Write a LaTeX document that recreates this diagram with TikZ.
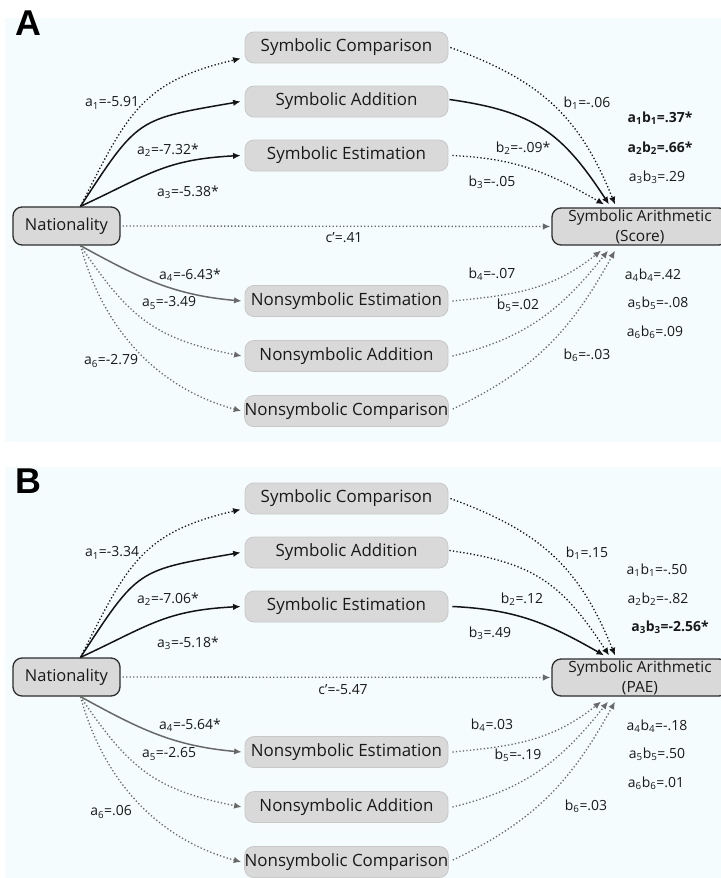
\documentclass[tikz,border=0pt]{standalone}
\usepackage{fontspec}
\setmainfont{Open Sans}
\newfontfamily\headfont{Liberation Sans}
\usetikzlibrary{arrows.meta,calc}
\definecolor{panelbg}{RGB}{244,252,253}
\definecolor{boxfill}{RGB}{217,217,217}
\definecolor{boxline}{RGB}{200,200,200}
\definecolor{darkline}{RGB}{45,45,45}
\definecolor{grayline}{RGB}{105,105,105}
\definecolor{txt}{RGB}{25,25,25}
\tikzset{
  med/.style={draw=boxline, line width=0.8bp, fill=boxfill, rounded corners=9bp,
    minimum width=203bp, minimum height=31bp, inner sep=0pt,
    font=\fontsize{17}{19}\selectfont, text=txt},
  keybox/.style={draw=darkline, line width=1.3bp, fill=boxfill, rounded corners=9bp,
    inner sep=0pt, align=center, text=txt},
  lab/.style={inner sep=0pt, font=\fontsize{14}{16}\selectfont, text=txt},
  blab/.style={inner sep=0pt, font=\bfseries\fontsize{14}{16}\selectfont, text=txt},
  head/.style={inner sep=0pt, font=\headfont\bfseries\fontsize{36}{36}\selectfont},
  tipk/.style={-{Latex[length=7.5bp,width=6.5bp]}},
  solidk/.style={tipk, line width=1.5bp, draw=black!92},
  dotk/.style={tipk, line width=1.3bp, draw=black!92, dash pattern=on 1.3bp off 2.2bp},
  solidg/.style={tipk, line width=1.5bp, draw=grayline},
  dotg/.style={tipk, line width=1.3bp, draw=grayline, dash pattern=on 1.3bp off 2.2bp},
}
\begin{document}
\begin{tikzpicture}[x=1bp,y=-1bp]
\useasboundingbox (0,0) rectangle (721,878);
\fill[panelbg] (5,18) rectangle (721,442);
\fill[panelbg] (5,467) rectangle (721,878);

% ---------------- Panel A ----------------
\node[head] (Ahead) at (28.5,23) {A};
\node[med] (Asc) at (346.5,47.5) {Symbolic Comparison};
\node[med] (Asa) at (346.5,101.5) {Symbolic Addition};
\node[med] (Ase) at (346.5,155.5) {Symbolic Estimation};
\node[med] (Ane) at (346.5,301) {Nonsymbolic Estimation};
\node[med] (Ana) at (346.5,356) {Nonsymbolic Addition};
\node[med] (Anc) at (346.5,411) {Nonsymbolic Comparison};
\node[keybox, minimum width=107bp, minimum height=38bp, font=\fontsize{16.5}{18}\selectfont] (An) at (66.5,226) {Nationality};
\node[keybox, minimum width=176bp, minimum height=37bp, font=\fontsize{15.5}{20}\selectfont] (Ao) at (640,226.5) {Symbolic Arithmetic\\(Score)};

\draw[dotk] ($(An.north)+(14,0)$) .. controls +(47,-93) and +(-99,23) .. ($(Asc.west)+(-4,11)$);
\draw[solidk] ($(An.north)+(14,0)$) .. controls +(58,-89) and +(-104,18) .. ($(Asa.west)+(-4,0)$);
\draw[solidk] ($(An.north)+(14,0)$) .. controls +(69,-32) and +(-76,4) .. ($(Ase.west)+(-4,0)$);
\draw[solidg] ($(An.south)+(14,0)$) .. controls +(60,33) and +(-68,-6) .. ($(Ane.west)+(-3,0)$);
\draw[dotg] ($(An.south)+(14,0)$) .. controls +(49,73) and +(-86,-17) .. ($(Ana.west)+(-3,0)$);
\draw[dotg] ($(An.south)+(14,0)$) .. controls +(23,84) and +(-84,-23) .. ($(Anc.west)+(-3,0)$);
\draw[dotg] ($(An.east)+(2,0)$) -- ($(Ao.west)+(-1,0)$);
\draw[dotk] ($(Asc.east)+(2,0)$) .. controls +(90,33) and +(-36,-89) .. ($(Ao.north)+(-25,-3)$);
\draw[solidk] ($(Asa.east)+(1,-2)$) .. controls +(85,12) and +(-47,-72) .. ($(Ao.north)+(-31,-3)$);
\draw[dotk] ($(Ase.east)+(4,0)$) .. controls +(64,3) and +(-56,-32) .. ($(Ao.north)+(-36,-3)$);
\draw[dotg] ($(Ane.east)+(4,0)$) .. controls +(63,-6) and +(-49,39) .. ($(Ao.south)+(-39,5)$);
\draw[dotg] ($(Ana.east)+(4,0)$) .. controls +(74,-18) and +(-47,59) .. ($(Ao.south)+(-32,5)$);
\draw[dotg] ($(Anc.east)+(4,-2)$) .. controls +(82,-39) and +(-44,80) .. ($(Ao.south)+(-25,5)$);

\node[lab] (Aa1) at (112,103) {a\textsubscript{1}=-5.91};
\node[lab] (Aa2) at (168,150) {a\textsubscript{2}=-7.32*};
\node[lab] (Aa3) at (188,192) {a\textsubscript{3}=-5.38*};
\node[lab] (Aa4) at (190,275) {a\textsubscript{4}=-6.43*};
\node[lab] (Aa5) at (169,303) {a\textsubscript{5}=-3.49};
\node[lab] (Aa6) at (111,361) {a\textsubscript{6}=-2.79};
\node[lab] (Ab1) at (587,103) {b\textsubscript{1}=-.06};
\node[lab] (Ab2) at (523,148) {b\textsubscript{2}=-.09*};
\node[lab] (Ab3) at (492,182) {b\textsubscript{3}=-.05};
\node[lab] (Ab4) at (492,274) {b\textsubscript{4}=-.07};
\node[lab] (Ab5) at (518,305) {b\textsubscript{5}=.02};
\node[lab] (Ab6) at (587,355) {b\textsubscript{6}=-.03};
\node[lab] (Ac) at (344,238) {c’=.41};
\node[blab] (Aab1) at (660,118) {a\textsubscript{1}b\textsubscript{1}=.37*};
\node[blab] (Aab2) at (660,148) {a\textsubscript{2}b\textsubscript{2}=.66*};
\node[lab] (Aab3) at (657,177) {a\textsubscript{3}b\textsubscript{3}=.29};
\node[lab] (Aab4) at (653,275) {a\textsubscript{4}b\textsubscript{4}=.42};
\node[lab] (Aab5) at (658,303) {a\textsubscript{5}b\textsubscript{5}=-.08};
\node[lab] (Aab6) at (655,332) {a\textsubscript{6}b\textsubscript{6}=.09};

% ---------------- Panel B ----------------
\begin{scope}[shift={(0,451)}]
\node[head] (Bhead) at (28.5,30) {B};
\node[med] (Bsc) at (346.5,47.5) {Symbolic Comparison};
\node[med] (Bsa) at (346.5,101.5) {Symbolic Addition};
\node[med] (Bse) at (346.5,155.5) {Symbolic Estimation};
\node[med] (Bne) at (346.5,301) {Nonsymbolic Estimation};
\node[med] (Bna) at (346.5,356) {Nonsymbolic Addition};
\node[med] (Bnc) at (346.5,411) {Nonsymbolic Comparison};
\node[keybox, minimum width=107bp, minimum height=38bp, font=\fontsize{16.5}{18}\selectfont] (Bn) at (66.5,226) {Nationality};
\node[keybox, minimum width=176bp, minimum height=37bp, font=\fontsize{15.5}{20}\selectfont] (Bo) at (640,226.5) {Symbolic Arithmetic\\(PAE)};

\draw[dotk] ($(Bn.north)+(14,0)$) .. controls +(47,-93) and +(-99,23) .. ($(Bsc.west)+(-4,11)$);
\draw[solidk] ($(Bn.north)+(14,0)$) .. controls +(58,-89) and +(-104,18) .. ($(Bsa.west)+(-4,0)$);
\draw[solidk] ($(Bn.north)+(14,0)$) .. controls +(69,-32) and +(-76,4) .. ($(Bse.west)+(-4,0)$);
\draw[solidg] ($(Bn.south)+(14,0)$) .. controls +(60,33) and +(-68,-6) .. ($(Bne.west)+(-3,0)$);
\draw[dotg] ($(Bn.south)+(14,0)$) .. controls +(49,73) and +(-86,-17) .. ($(Bna.west)+(-3,0)$);
\draw[dotg] ($(Bn.south)+(14,0)$) .. controls +(23,84) and +(-84,-23) .. ($(Bnc.west)+(-3,0)$);
\draw[dotg] ($(Bn.east)+(2,0)$) -- ($(Bo.west)+(-1,0)$);
\draw[dotk] ($(Bsc.east)+(2,0)$) .. controls +(90,33) and +(-36,-89) .. ($(Bo.north)+(-25,-3)$);
\draw[dotk] ($(Bsa.east)+(1,-2)$) .. controls +(85,12) and +(-47,-72) .. ($(Bo.north)+(-31,-3)$);
\draw[solidk] ($(Bse.east)+(4,0)$) .. controls +(64,3) and +(-56,-32) .. ($(Bo.north)+(-36,-3)$);
\draw[dotg] ($(Bne.east)+(4,0)$) .. controls +(63,-6) and +(-49,39) .. ($(Bo.south)+(-39,5)$);
\draw[dotg] ($(Bna.east)+(4,0)$) .. controls +(74,-18) and +(-47,59) .. ($(Bo.south)+(-32,5)$);
\draw[dotg] ($(Bnc.east)+(4,-2)$) .. controls +(82,-39) and +(-44,80) .. ($(Bo.south)+(-25,5)$);

\node[lab] (Ba1) at (112,102) {a\textsubscript{1}=-3.34};
\node[lab] (Ba2) at (168,148) {a\textsubscript{2}=-7.06*};
\node[lab] (Ba3) at (188,192) {a\textsubscript{3}=-5.18*};
\node[lab] (Ba4) at (190,274) {a\textsubscript{4}=-5.64*};
\node[lab] (Ba5) at (169,303) {a\textsubscript{5}=-2.65};
\node[lab] (Ba6) at (111,361) {a\textsubscript{6}=.06};
\node[lab] (Bb1) at (587,102) {b\textsubscript{1}=.15};
\node[lab] (Bb2) at (522,148) {b\textsubscript{2}=.12};
\node[lab] (Bb3) at (490,182) {b\textsubscript{3}=.49};
\node[lab] (Bb4) at (492,274) {b\textsubscript{4}=.03};
\node[lab] (Bb5) at (518,304) {b\textsubscript{5}=-.19};
\node[lab] (Bb6) at (586,355) {b\textsubscript{6}=.03};
\node[lab] (Bc) at (343,239) {c’=-5.47};
\node[lab] (Bab1) at (657,119) {a\textsubscript{1}b\textsubscript{1}=-.50};
\node[lab] (Bab2) at (658,148) {a\textsubscript{2}b\textsubscript{2}=-.82};
\node[blab] (Bab3) at (670,176) {a\textsubscript{3}b\textsubscript{3}=-2.56*};
\node[lab] (Bab4) at (657,275) {a\textsubscript{4}b\textsubscript{4}=-.18};
\node[lab] (Bab5) at (657,303) {a\textsubscript{5}b\textsubscript{5}=.50};
\node[lab] (Bab6) at (656,332) {a\textsubscript{6}b\textsubscript{6}=.01};
\end{scope}
\end{tikzpicture}
\end{document}
